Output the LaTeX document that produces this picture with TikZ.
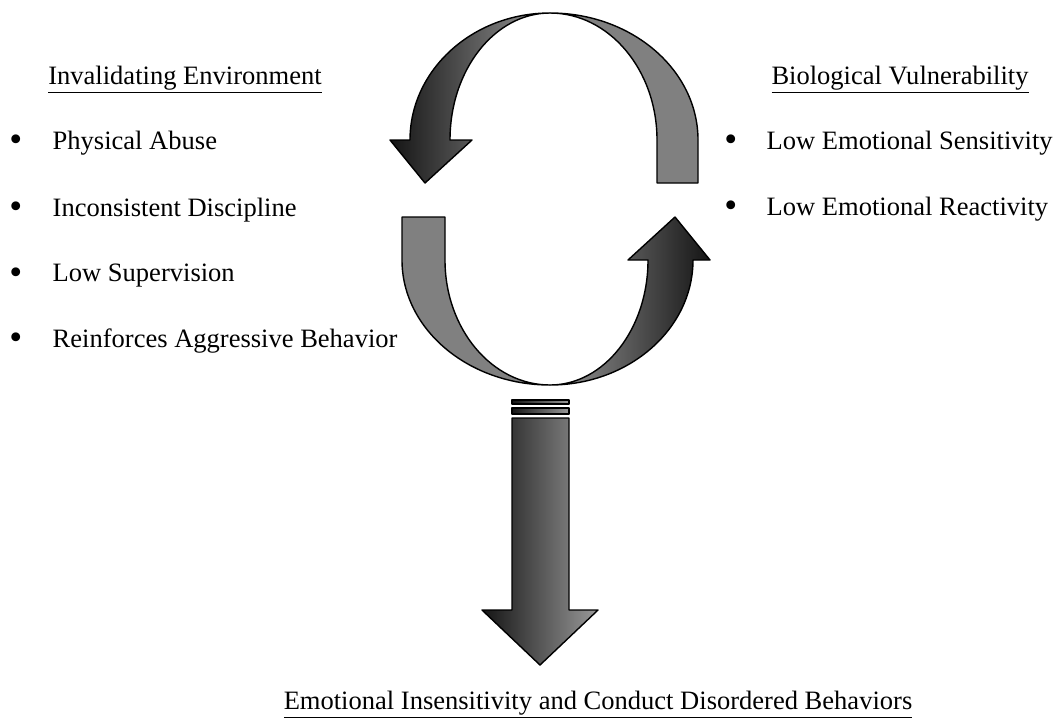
\documentclass[tikz,border=0pt]{standalone}
\usepackage{fontspec}
\setmainfont{Liberation Serif}
\usetikzlibrary{positioning}
\begin{document}
\begin{tikzpicture}[x=0.02cm, y=-0.02cm, line width=0.8pt,
        txt/.style={font=\fontsize{15.1}{18}\selectfont,inner sep=0pt},
        itm/.style={txt,anchor=west},
        bl/.style={font=\fontsize{21}{21}\selectfont,inner sep=0pt},
        band/.style={draw=black,line width=0.8pt,line join=round},
        dk/.style={band,left color=black!92,right color=gray!80},
        dkr/.style={band,left color=gray!80,right color=black!92},
        lt/.style={band,fill=gray}]
      \useasboundingbox (0,0) rectangle (1057,724);
      \def\cx{550}   % centre line of the cycle
      % upper half of the cycle
      \path[dk] (\cx,13) arc[start angle=270,end angle=180,x radius=140,y radius=127]
        -- (390,140) -- (425,183) -- (472,140) -- (450,140)
        arc[start angle=180,end angle=270,x radius=100,y radius=127] -- cycle;
      \path[lt] (\cx,13) arc[start angle=270,end angle=360,x radius=148,y radius=127]
        -- (698,183) -- (657,183) -- (657,140)
        arc[start angle=0,end angle=-90,x radius=107,y radius=127] -- cycle;
      % lower half of the cycle
      \path[lt] (402,217) -- (402,260)
        arc[start angle=180,end angle=90,x radius=148,y radius=125]
        arc[start angle=90,end angle=180,x radius=105,y radius=125] -- (445,217) -- cycle;
      \path[dkr] (\cx,385) arc[start angle=90,end angle=0,x radius=143,y radius=125]
        -- (710,260) -- (675,217) -- (628,260) -- (648,260)
        arc[start angle=0,end angle=90,x radius=98,y radius=125] -- cycle;
      % outcome arrow
      \path[dk] (512,400) rectangle (569,404);
      \path[dk] (512,408) rectangle (569,414);
      \path[dk] (512,418) -- (569,418) -- (569,610) -- (598,610) -- (540,665)
        -- (482,610) -- (512,610) -- cycle;
      % left list
      \node[txt] (env) at (185,80) {\underline{Invalidating Environment}};
      \node[itm] (e1) at (52,143) {Physical Abuse};
      \node[itm] (e2) at (52,210) {Inconsistent Discipline};
      \node[itm] (e3) at (52,276) {Low Supervision};
      \node[itm] (e4) at (52,341) {Reinforces Aggressive Behavior};
      \foreach \n in {e1,e2,e3,e4}{\node[bl,left=29 of \n] {\textbullet};}
      % right list
      \node[txt] (bio) at (900,80) {\underline{Biological Vulnerability}};
      \node[itm] (b1) at (766,143) {Low Emotional Sensitivity};
      \node[itm] (b2) at (766,209) {Low Emotional Reactivity};
      \foreach \n in {b1,b2}{\node[bl,left=28 of \n] {\textbullet};}
      % outcome
      \node[txt] (out) at (598,705) {\underline{Emotional Insensitivity and Conduct Disordered Behaviors}};
    \end{tikzpicture}
\end{document}
